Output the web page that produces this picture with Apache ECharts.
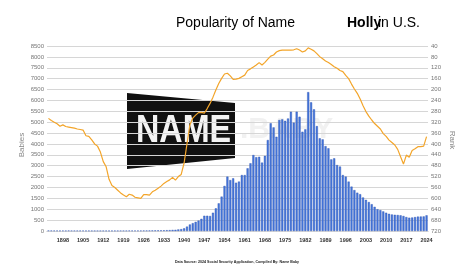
<!DOCTYPE html>
<html>
<head>
<meta charset="utf-8">
<script src="https://cdn.jsdelivr.net/npm/echarts@6/dist/echarts.min.js"></script>
<style>html,body{margin:0;padding:0;background:#fff}#c{width:474px;height:277px}</style>
</head>
<body>
<div id="c"></div>
<script>
var firstYear = 1893, lastYear = 2024;
var years = [];
for (var y = firstYear; y <= lastYear; y++) years.push(String(y));

var babies = [
  22,20,19,18,17,18,15,
  21,16,17,16,17,17,14,15,14,13,
  14,13,13,14,12,14,15,15,16,16,
  17,20,19,18,19,19,21,22,23,25,
  27,28,30,32,36,40,50,55,70,85,
  120,200,300,360,420,480,560,700,700,690,
  840,1040,1270,1580,2070,2500,2340,2420,2220,2270,
  2570,2570,2880,3110,3490,3390,3410,3140,3450,4180,
  4950,4760,4330,5100,5130,5060,5170,5480,4980,5480,
  5250,4560,4670,6380,5910,5590,4820,4260,4210,3900,
  3800,3290,3340,3030,2960,2570,2500,2270,2040,1880,
  1760,1690,1540,1430,1330,1230,1110,1000,960,900,
  840,790,760,745,735,720,690,640,610,620,
  640,660,665,670,720
];

var ranks = [
  306,314,320,326,335,330,336,
  338,340,342,345,347,349,370,372,385,400,
  408,430,465,484,530,553,560,570,580,588,
  594,585,588,596,598,600,586,586,588,576,
  570,563,555,545,538,532,523,533,520,512,
  470,400,330,305,294,285,284,287,270,251,
  228,202,178,159,143,140,150,163,162,159,
  153,147,130,124,117,110,101,110,100,88,
  77,73,62,57,55,55,55,55,54,50,
  55,62,58,47,52,58,68,79,87,95,
  101,108,116,122,130,134,148,160,180,198,
  214,235,260,281,298,312,325,335,345,362,
  372,386,395,404,420,447,474,441,449,424,
  418,410,410,408,373
];

var titleMain = 'Popularity of Name';
var titleName = 'Holly';
var titleTail = 'in U.S.';
var footer = 'Data Source: 2024 Social Security Application, Compiled By: Name Baby';

var chart = echarts.init(document.getElementById('c'), null, {renderer: 'canvas'});
chart.setOption({
  animation: false,
  backgroundColor: '#fff',
  grid: {left: 47, right: 46, top: 46, bottom: 46, containLabel: false},
  xAxis: {
    type: 'category',
    data: years,
    boundaryGap: true,
    axisLine: {lineStyle: {color: '#bbb', width: 1}},
    axisTick: {show: false},
    axisLabel: {
      interval: function (i, v) { return (Number(v) - 1898) % 7 === 0; },
      fontSize: 5.5, fontWeight: 'bold', color: '#333', margin: 6,
      fontFamily: 'Liberation Sans'
    }
  },
  yAxis: [
    {
      type: 'value', min: 0, max: 8500, interval: 500, z: 1,
      axisLine: {show: false}, axisTick: {show: false},
      axisLabel: {fontSize: 6, color: '#777', margin: 3, fontFamily: 'Liberation Sans',
        formatter: function (v) { return String(v); }},
      splitLine: {lineStyle: {color: '#d6d6d6', width: 1}}
    },
    {
      type: 'value', min: 40, max: 720, interval: 40, inverse: true, position: 'right',
      axisLine: {show: false}, axisTick: {show: false},
      axisLabel: {fontSize: 6, color: '#777', margin: 3, fontFamily: 'Liberation Sans',
        formatter: function (v) { return String(v); }},
      splitLine: {show: false}
    }
  ],
  series: [
    {
      type: 'bar', yAxisIndex: 0, data: babies, barWidth: '72%', z: 2,
      itemStyle: {color: '#4677dc', borderColor: '#2b52b0', borderWidth: 0.4}
    },
    {
      type: 'line', yAxisIndex: 1, data: ranks, symbol: 'none', z: 3,
      lineStyle: {color: '#f3a52a', width: 1.2}
    }
  ],
  graphic: {
    z: -5,
    elements: [
      {type: 'polygon', shape: {points: [[127,93],[235,103],[235,158],[127,169]]}, style: {fill: '#111'}},
      {type: 'group', x: 136, y: 132, scaleX: 0.85, children: [
        {type: 'text', style: {text: 'NAME', fill: '#f4f4f4', font: 'bold 38px "Liberation Sans"', textVerticalAlign: 'middle', textAlign: 'left'}}
      ]},
      {type: 'text', x: 240, y: 130, style: {text: '.BABY', fill: 'rgba(215,215,215,0.35)', font: 'bold 30px "Liberation Sans"', textVerticalAlign: 'middle'}},
      {type: 'text', x: 176, y: 23, style: {text: titleMain, fill: '#000', font: '14px "Liberation Sans"', textVerticalAlign: 'middle'}},
      {type: 'text', x: 347, y: 23, style: {text: titleName, fill: '#000', font: 'bold 14px "Liberation Sans"', textVerticalAlign: 'middle'}},
      {type: 'text', x: 378, y: 23, style: {text: titleTail, fill: '#000', font: '14px "Liberation Sans"', textVerticalAlign: 'middle'}},
      {type: 'text', x: 22, y: 145, rotation: Math.PI / 2, style: {text: 'Babies', fill: '#888', font: '8px "Liberation Sans"', textAlign: 'center', textVerticalAlign: 'middle'}},
      {type: 'text', x: 452, y: 140, rotation: -Math.PI / 2, style: {text: 'Rank', fill: '#888', font: '8px "Liberation Sans"', textAlign: 'center', textVerticalAlign: 'middle'}},
      {type: 'text', x: 237, y: 262, style: {text: footer, fill: '#222', font: 'bold 3.6px "Liberation Sans"', textAlign: 'center', textVerticalAlign: 'middle'}}
    ]
  }
});
</script>
</body>
</html>
